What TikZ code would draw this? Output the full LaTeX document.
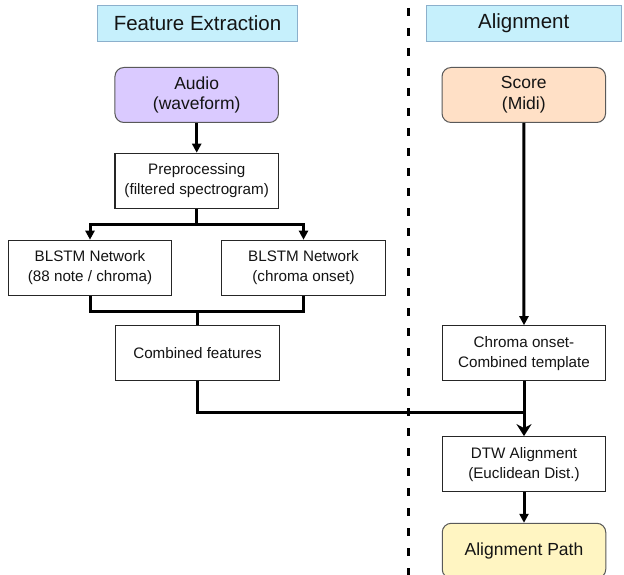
\documentclass[tikz,border=0pt]{standalone}
\usepackage{fontspec}
\setmainfont{Liberation Sans}
\usetikzlibrary{arrows.meta}
\definecolor{hdrfill}{RGB}{198,240,252}
\definecolor{hdrdraw}{RGB}{140,176,204}
\definecolor{audiofill}{RGB}{218,202,255}
\definecolor{scorefill}{RGB}{255,224,198}
\definecolor{pathfill}{RGB}{255,245,194}
\definecolor{txt}{RGB}{20,20,20}
\begin{document}
\begin{tikzpicture}[x=1pt,y=-1pt,
  box/.style={draw=black!85, line width=1.2pt, minimum width=163.5pt, minimum height=55pt,
    inner sep=0pt, align=center, text=txt, font=\fontsize{15.2}{19.8}\selectfont},
  rbox/.style={box, rounded corners=9pt, draw=black!65, line width=1pt,
    font=\fontsize{17.5}{20.7}\selectfont},
  hdr/.style={draw=hdrdraw, fill=hdrfill, line width=0.8pt, minimum height=36.7pt,
    inner sep=0pt, text=txt, font=\fontsize{20.5}{24}\selectfont},
  conn/.style={line width=3pt, draw=black},
  arr/.style={conn, -{Triangle[width=9pt,length=9pt]}},
  bigarr/.style={conn, -{Stealth[width=15pt,length=12pt,inset=4pt]}},
  divider/.style={line width=3.2pt, dash pattern=on 8.3pt off 11.7pt}
]
\clip (0,0) rectangle (624,575);
\fill[white] (0,0) rectangle (624,575);

% headers
\node[hdr, minimum width=200.4pt] (hfe) at (197.5,23.5) {Feature Extraction};
\node[hdr, minimum width=194.7pt] (hal) at (523.7,23.5) {Alignment};

% divider
\coordinate (dtop) at (408.5,8);
\coordinate (dbot) at (408.5,590);
\draw[divider] (dtop) -- (dbot);

% left column
\node[rbox, fill=audiofill] (audio) at (196.7,95) {Audio\\(waveform)};
\node[box] (pre) at (196.7,180.8) {Preprocessing\\(filtered spectrogram)};
\node[box] (b1) at (90,267.8) {BLSTM Network\\(88 note / chroma)};
\node[box] (b2) at (303.5,267.8) {BLSTM Network\\(chroma onset)};
\node[box] (comb) at (197.5,353.3) {Combined features};

% right column
\node[rbox, fill=scorefill] (score) at (523.8,95) {Score\\(Midi)};
\node[box] (chroma) at (524,353.3) {Chroma onset-\\Combined template};
\node[box] (dtw) at (524,464.2) {DTW Alignment\\(Euclidean Dist.)};
\node[rbox, fill=pathfill] (path) at (524,550.8) {Alignment Path};

% junctions
\coordinate (j1) at (196.7,224.3);
\coordinate (j2) at (197.5,311.7);
\coordinate (j3) at (524,412.3);

% connectors
\draw[arr] (audio.south) -- (pre.north);
\draw[conn] (pre.south) -- (j1);
\draw[arr] (j1) -| (b1.north);
\draw[arr] (j1) -| (b2.north);
\draw[conn] (b1.south) |- (j2) -| (b2.south);
\draw[conn] (j2) -- (comb.north);
\draw[conn] (comb.south) |- (j3);
\draw[arr] (score.south) -- (chroma.north);
\draw[bigarr] (chroma.south) -- (dtw.north);
\draw[arr] (dtw.south) -- (path.north);
\end{tikzpicture}
\end{document}
